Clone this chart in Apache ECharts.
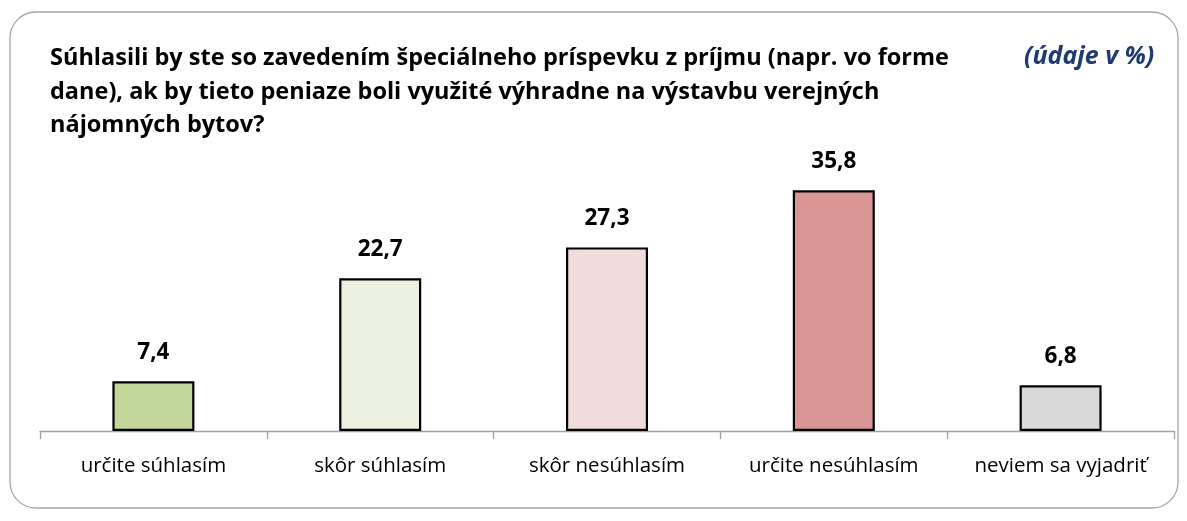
<!DOCTYPE html>
<html>
<head>
<meta charset="utf-8">
<script src="https://cdn.jsdelivr.net/npm/echarts@6/dist/echarts.min.js"></script>
<style>
  html, body { margin: 0; padding: 0; background: #fff; }
  #main { width: 1187px; height: 521px; }
</style>
</head>
<body>
<div id="main"></div>
<script>
  var categories = ['určite súhlasím', 'skôr súhlasím', 'skôr nesúhlasím', 'určite nesúhlasím', 'neviem sa vyjadriť'];
  var values = [7.4, 22.7, 27.3, 35.8, 6.8];
  var barColors = ['#c4d79b', '#ebf1de', '#f2dcdb', '#da9694', '#d9d9d9'];

  var font = 'Open Sans';
  var myChart = echarts.init(document.getElementById('main'));
  myChart.setOption({
    animation: false,
    title: {
      text: 'Súhlasili by ste so zavedením špeciálneho príspevku z príjmu (napr. vo forme\ndane), ak by tieto peniaze boli využité výhradne na výstavbu verejných\nnájomných bytov?',
      left: 50,
      top: 42,
      padding: 0,
      textStyle: {
        fontFamily: font,
        fontWeight: 'bold',
        fontSize: 23.5,
        lineHeight: 33.5,
        color: '#000'
      }
    },
    graphic: [
      {
        type: 'rect',
        shape: { x: 10, y: 12, width: 1168, height: 496, r: 26 },
        style: { fill: 'none', stroke: '#a6a6a6', lineWidth: 1.3 },
        z: -1
      },
      {
        type: 'text',
        left: 1024,
        top: 44,
        style: {
          text: '(údaje v %)',
          fontFamily: font,
          fontStyle: 'italic',
          fontWeight: 'bold',
          fontSize: 25,
          fill: '#1f3a73'
        }
      }
    ],
    grid: { left: 40, right: 13, top: 162, bottom: 90 },
    xAxis: {
      type: 'category',
      data: categories,
      axisLine: { lineStyle: { color: '#a0a0a0', width: 1.3 } },
      axisTick: { show: true, length: 8, lineStyle: { color: '#a0a0a0', width: 1.3 } },
      axisLabel: {
        fontFamily: font,
        fontSize: 20.5,
        color: '#000',
        margin: 25
      }
    },
    yAxis: {
      type: 'value',
      min: 0,
      max: 40,
      show: false,
      splitLine: { show: false }
    },
    series: [{
      type: 'bar',
      barWidth: 82,
      data: values.map(function (v, i) {
        return { value: v, itemStyle: { color: barColors[i] } };
      }),
      itemStyle: { borderColor: '#000', borderWidth: 2.2 },
      label: {
        show: true,
        position: 'top',
        distance: 17,
        fontFamily: font,
        fontWeight: 'bold',
        fontSize: 22.5,
        color: '#000',
        formatter: function (p) { return String(p.value).replace('.', ','); }
      }
    }]
  });
</script>
</body>
</html>
